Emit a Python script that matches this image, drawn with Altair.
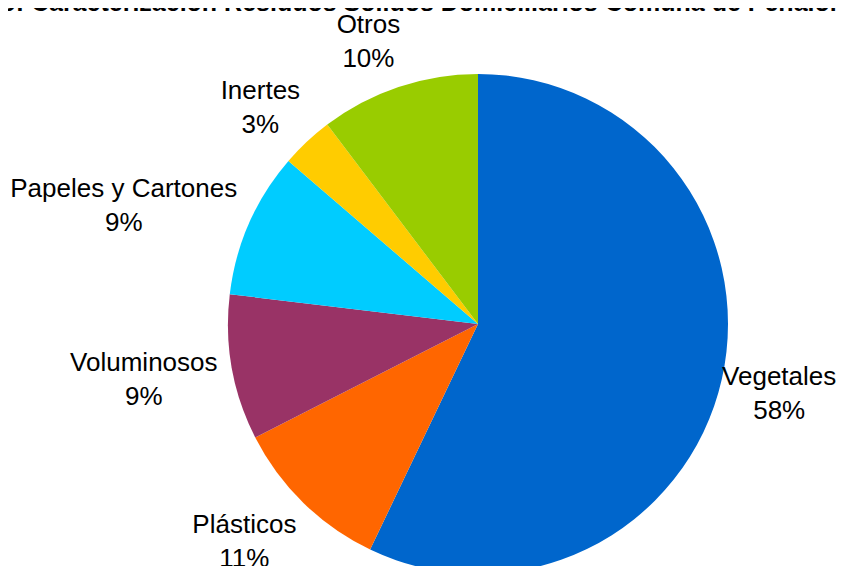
import math
import altair as alt
import pandas as pd

# ---- data ----
categories = ["Vegetales", "Plásticos", "Voluminosos", "Papeles y Cartones", "Inertes", "Otros"]
values = [57.1, 10.4, 9.4, 9.4, 3.4, 10.3]
pct_labels = ["58%", "11%", "9%", "9%", "3%", "10%"]
colors = ["#0066CC", "#FF6600", "#993366", "#00CCFF", "#FFCC00", "#99CC00"]
title_text = "Gráfico: Caracterización Residuos Sólidos Domiciliarios Comuna de Peñalolén"

# ---- layout / style ----
W, H = 830, 558
CX, CY = 470, 316          # pie centre inside the svg
R_OUT = 250
FONT = "Liberation Sans"
FS = 26
LH = 34
R_LAB = 273                # label anchor radius (horizontal)
R_LAB_Y = 301              # label block centre radius (vertical)

# Arial / Liberation Sans advance widths (1/1000 em) for label width estimation
AW = {"a": 556, "á": 556, "c": 500, "e": 556, "g": 556, "i": 222, "l": 222, "m": 833,
      "n": 556, "o": 556, "p": 556, "r": 333, "s": 500, "t": 278, "u": 556, "y": 500,
      "C": 722, "I": 278, "O": 778, "P": 667, "V": 667, " ": 278, "%": 889}


def text_width(s):
    return sum(AW.get(ch, 556) for ch in s) * FS / 1000.0


total = sum(values)
rows = []
cum = 0.0
for i, (c, v, p) in enumerate(zip(categories, values, pct_labels)):
    mid = 2 * math.pi * (cum + v / 2) / total
    cum += v
    ux, uy = math.sin(mid), -math.cos(mid)
    w = max(text_width(c), text_width(p))
    lx = CX + R_LAB * ux + math.copysign(w / 2 - 9, ux)
    lx = min(max(lx, w / 2 + 1), W - w / 2 - 1)   # keep labels inside the chart
    # first line is drawn at ly (baseline "middle"); block centre sits ~16px lower
    ly = CY + R_LAB_Y * uy - 14
    rows.append({"idx": i, "cat": c, "value": v, "label": c + "\n" + p, "lx": lx, "ly": ly})

df = pd.DataFrame(rows)

pie = alt.Chart(df).mark_arc(radius=R_OUT, stroke=None).encode(
    theta=alt.Theta("value:Q", stack=True),
    color=alt.Color("cat:N", scale=alt.Scale(domain=categories, range=colors), legend=None),
    order=alt.Order("idx:Q"),
    x=alt.value(CX),
    y=alt.value(CY),
)

labels = alt.Chart(df).mark_text(
    font=FONT, fontSize=FS, lineHeight=LH, lineBreak="\n",
    align="center", baseline="middle", color="#000000"
).encode(
    x=alt.X("lx:Q", scale=None),
    y=alt.Y("ly:Q", scale=None),
    text="label:N",
)

# title: only its lower part shows at the top edge, as in the reference
title = alt.Chart(pd.DataFrame({"t": [title_text]})).mark_text(
    font=FONT, fontSize=25, fontWeight="bold", align="center",
    baseline="alphabetic", color="#000000"
).encode(
    x=alt.value(389),
    y=alt.value(3),
    text="t:N",
)

chart = alt.layer(pie, labels, title).properties(
    width=W, height=H,
    autosize=alt.AutoSizeParams(type="none"),
    padding=0,
    background="#FFFFFF",
).configure_view(stroke=None)

chart.save("out.html", embed_options={"renderer": "svg", "actions": False})
